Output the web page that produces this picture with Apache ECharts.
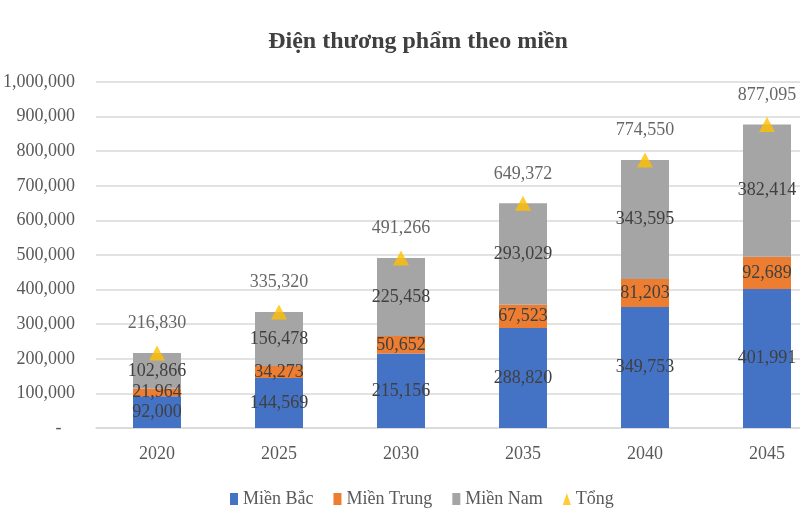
<!DOCTYPE html>
<html>
<head>
<meta charset="utf-8">
<script src="https://cdn.jsdelivr.net/npm/echarts@6/dist/echarts.min.js"></script>
<style>
  html, body { margin: 0; padding: 0; background: #fff; overflow: hidden; }
  #wrap { width: 800px; height: 526px; overflow: hidden; }
  #main { width: 836px; height: 526px; }
</style>
</head>
<body>
<div id="wrap"><div id="main"></div></div>
<script>
// số liệu
var years = ['2020', '2025', '2030', '2035', '2040', '2045'];
var mienBac = [92000, 144569, 215156, 288820, 349753, 401991];
var mienTrung = [21964, 34273, 50652, 67523, 81203, 92689];
var mienNam = [102866, 156478, 225458, 293029, 343595, 382414];
var tong = [216830, 335320, 491266, 649372, 774550, 877095];

var serif = 'Liberation Serif';
var fmt = function (v) { return Number(v).toLocaleString('en-US'); };

var myChart = echarts.init(document.getElementById('main'));

var barLabel = {
  show: true,
  position: 'inside',
  color: '#404040',
  fontFamily: serif,
  fontSize: 18,
  formatter: function (p) { return fmt(p.value); }
};

myChart.setOption({
  animation: false,
  color: ['#4472C4', '#ED7D31', '#A5A5A5', '#FFC000'],
  title: {
    text: 'Điện thương phẩm theo miền',
    left: 'center',
    top: 25,
    textStyle: { fontFamily: serif, fontSize: 24, fontWeight: 'bold', color: '#404040' }
  },
  legend: {
    bottom: 13,
    left: 225,
    itemWidth: 8,
    itemHeight: 12,
    itemGap: 20,
    textStyle: { fontFamily: serif, fontSize: 18, color: '#595959' },
    data: [
      { name: 'Miền Bắc', icon: 'rect' },
      { name: 'Miền Trung', icon: 'rect' },
      { name: 'Miền Nam', icon: 'rect' },
      { name: 'Tổng', icon: 'triangle' }
    ]
  },
  grid: { left: 96, top: 82, width: 732, height: 346 },
  xAxis: {
    type: 'category',
    data: years,
    axisTick: { show: false },
    axisLine: { lineStyle: { color: '#d9d9d9', width: 1.5 } },
    axisLabel: { fontFamily: serif, fontSize: 18, color: '#595959', margin: 17 }
  },
  yAxis: {
    type: 'value',
    min: 0,
    max: 1000000,
    interval: 100000,
    axisLine: { show: false },
    axisTick: { show: false },
    splitLine: { lineStyle: { color: '#d9d9d9', width: 1.5 } },
    axisLabel: {
      fontFamily: serif, fontSize: 18, color: '#595959', margin: 21,
      formatter: function (v) { return v === 0 ? '-   ' : fmt(v); }
    }
  },
  series: [
    { name: 'Miền Bắc', type: 'bar', stack: 'all', barWidth: 48, data: mienBac, label: barLabel },
    { name: 'Miền Trung', type: 'bar', stack: 'all', data: mienTrung, label: barLabel },
    { name: 'Miền Nam', type: 'bar', stack: 'all', data: mienNam, label: barLabel },
    {
      name: 'Tổng',
      type: 'scatter',
      symbol: 'triangle',
      symbolSize: [16, 15],
      data: tong,
      label: {
        show: true,
        position: 'top',
        distance: 13,
        color: '#404040',
        fontFamily: serif,
        fontSize: 18,
        formatter: function (p) { return fmt(p.value); }
      }
    }
  ]
});
</script>
</body>
</html>
